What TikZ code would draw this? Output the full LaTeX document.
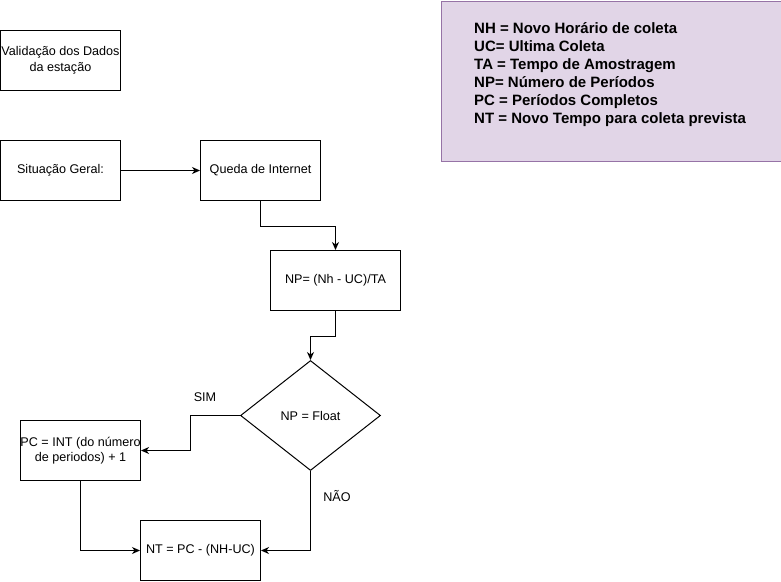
\documentclass[tikz,border=0pt]{standalone}
\usepackage{fontspec}
\setmainfont{Liberation Sans}
\usetikzlibrary{arrows.meta,shapes.geometric}
\definecolor{legfill}{HTML}{E1D5E7}
\definecolor{legdraw}{HTML}{9673A6}
\begin{document}
\begin{tikzpicture}[x=1pt,y=-1pt,
  box/.style={draw=black,line width=1pt,fill=white,minimum width=120pt,minimum height=60pt,inner sep=0pt,align=center,font=\fontsize{12.6}{15.5}\selectfont},
  conn/.style={draw=black,line width=1pt,-{Stealth[length=8pt,width=7pt,inset=2.5pt]}},
  lbl/.style={font=\fontsize{12.6}{15}\selectfont}]
\useasboundingbox (0,0) rectangle (781,581);
\fill[white] (0,0) rectangle (781,581);
% legend
\node[draw=legdraw,fill=legfill,line width=1pt,minimum width=340pt,minimum height=160pt,inner sep=0pt,anchor=north west] (leg) at (440.5,0.5) {};
\node[anchor=north west,inner sep=0pt,align=left,font=\bfseries\fontsize{15}{18}\selectfont] (legtxt) at (474,22)
{NH = Novo Horário de coleta\\UC= Ultima Coleta\\TA = Tempo de Amostragem\\NP= Número de Períodos\\PC = Períodos Completos\\NT = Novo Tempo para coleta prevista};
% boxes
\node[box] (val) at (60.5,60.5) {Validação dos Dados\\da estação};
\node[box] (sit) at (60.5,170.5) {Situação Geral:};
\node[box] (qi) at (260.5,170.5) {Queda de Internet};
\node[box,minimum width=130pt] (np) at (335.5,280.5) {NP= (Nh - UC)/TA};
\node[draw=black,line width=1pt,fill=white,diamond,minimum width=140pt,minimum height=110pt,inner sep=0pt,aspect=1.27,font=\fontsize{12.6}{15}\selectfont] (dec) at (310.5,415.5) {NP = Float};
\node[box] (pc) at (80.5,450.5) {PC = INT (do número\\de periodos) + 1};
\node[box] (nt) at (200.5,550.5) {NT = PC - (NH-UC)};
% connectors
\draw[conn] (sit.east) -- (qi.west);
\draw[conn] (qi.south) -- ++(0,25) -| (np.north);
\draw[conn] (np.south) -- ++(0,25) -| (dec.north);
\draw[conn] (dec.west) -- ++(-50,0) |- (pc.east);
\draw[conn] (pc.south) |- (nt.west);
\draw[conn] (dec.south) |- (nt.east);
% labels
\node[lbl] (sim) at (205,397) {SIM};
\node[lbl] (nao) at (337,496) {NÃO};
\end{tikzpicture}
\end{document}
